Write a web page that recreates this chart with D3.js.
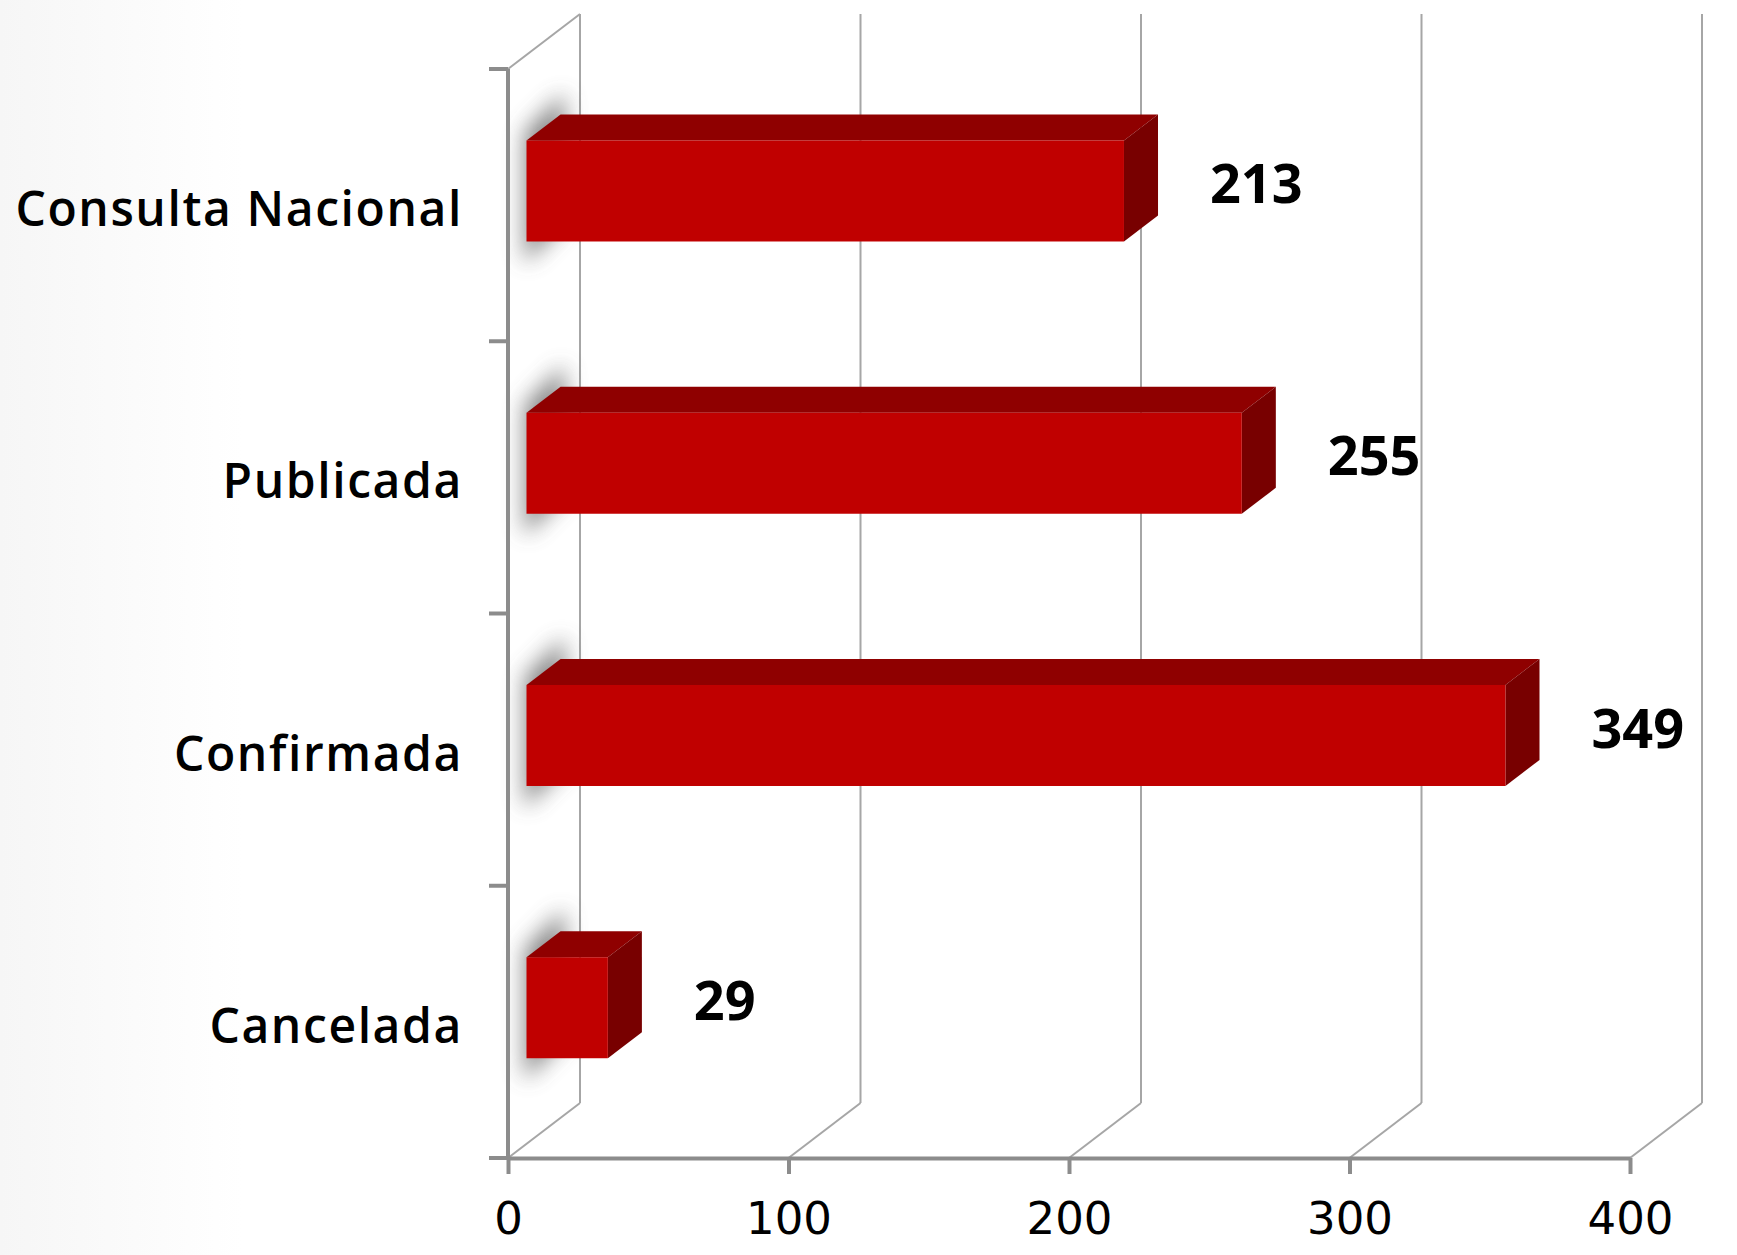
<!DOCTYPE html>
<html>

<head>
    <title>estatus</title>
    <script src="https://d3js.org/d3.v7.min.js"></script>
    <style>
        body { margin: 0; background: #fff; }
        text { font-family: "Open Sans", sans-serif; fill: #000; }
    </style>
</head>

<body>
    <svg width="1737" height="1255" id="mainsvg"></svg>
    <script>
        // datos
        const categories = ['Consulta Nacional', 'Publicada', 'Confirmada', 'Cancelada'];
        const values = [213, 255, 349, 29];
        const xTicks = [0, 100, 200, 300, 400];

        const svg = d3.select('#mainsvg');
        const width = +svg.attr('width'), height = +svg.attr('height');
        const margin = { top: 69, right: 107, bottom: 97, left: 508 };
        const innerWidth = width - margin.left - margin.right;
        const innerHeight = height - margin.top - margin.bottom;

        // profundidad 3d (desplazamiento de la pared del fondo)
        const depth = { dx: 72, dy: -55 };
        const zFront = 0.257, zBack = 0.73;
        const barRatio = 0.371;

        const defs = svg.append('defs');
        const bg = defs.append('linearGradient').attr('id', 'bg')
            .attr('x1', 0).attr('x2', 1).attr('y1', 0).attr('y2', 0);
        bg.append('stop').attr('offset', 0).attr('stop-color', '#f6f6f6');
        bg.append('stop').attr('offset', 0.14).attr('stop-color', '#ffffff');
        defs.append('filter').attr('id', 'blur')
            .attr('x', -1).attr('y', -1).attr('width', 3).attr('height', 3)
            .append('feGaussianBlur').attr('stdDeviation', 11);

        svg.append('rect').attr('width', width).attr('height', height).attr('fill', 'url(#bg)');

        const g = svg.append('g').attr('transform', `translate(${margin.left},${margin.top})`);

        const x = d3.scaleLinear().domain([0, 400]).range([0, innerWidth]);
        const y = d3.scaleBand().domain(categories).range([0, innerHeight]).padding(0);
        const bw = y.bandwidth();
        const gridColor = '#a6a6a6', axisColor = '#8c8c8c';

        const bars = categories.map((c, i) => {
            const cy = y(c) + bw / 2;
            const h = bw * barRatio;
            const fx0 = x(0) + zFront * depth.dx, fx1 = x(values[i]) + zFront * depth.dx;
            const fy0 = cy - h / 2 + zFront * depth.dy, fy1 = cy + h / 2 + zFront * depth.dy;
            const ox = (zBack - zFront) * depth.dx, oy = (zBack - zFront) * depth.dy;
            return { c, v: values[i], cy, fx0, fx1, fy0, fy1, ox, oy };
        });

        // etiquetas de valores (debajo de la cuadricula)
        g.append('g').selectAll('text').data(bars).join('text')
            .attr('x', d => d.fx1 + 86)
            .attr('y', d => d.cy - 2)
            .attr('font-size', 54).attr('font-weight', 700)
            .text(d => d.v);

        // pared lateral izquierda
        g.append('line')
            .attr('x1', x(0)).attr('y1', 0)
            .attr('x2', x(0) + depth.dx).attr('y2', depth.dy)
            .attr('stroke', gridColor).attr('stroke-width', 2);

        // lineas de la pared del fondo y del piso
        const grid = g.append('g');
        grid.selectAll('.back').data(xTicks).join('line')
            .attr('x1', d => x(d) + depth.dx).attr('x2', d => x(d) + depth.dx)
            .attr('y1', depth.dy).attr('y2', innerHeight + depth.dy)
            .attr('stroke', gridColor).attr('stroke-width', 2);
        grid.selectAll('.floor').data(xTicks).join('line')
            .attr('x1', d => x(d)).attr('y1', innerHeight)
            .attr('x2', d => x(d) + depth.dx).attr('y2', innerHeight + depth.dy)
            .attr('stroke', gridColor).attr('stroke-width', 2);

        // sombra sobre la pared lateral
        g.append('g').selectAll('path').data(bars).join('path')
            .attr('d', d => {
                const l = d.fx0 - 2, r = d.fx0 + d.ox + 4;
                return `M${l},${d.fy0 - 8}L${r},${d.fy0 + d.oy - 22}L${r},${d.fy1 + d.oy + 8}L${l},${d.fy1 + 22}Z`;
            })
            .attr('fill', '#555').attr('opacity', 0.7)
            .attr('filter', 'url(#blur)');

        // ejes
        g.append('line')
            .attr('x1', x(0)).attr('x2', x(0)).attr('y1', 0).attr('y2', innerHeight)
            .attr('stroke', axisColor).attr('stroke-width', 4);
        g.selectAll('.ytick').data(d3.range(categories.length + 1)).join('line')
            .attr('x1', x(0) - 19).attr('x2', x(0))
            .attr('y1', d => d * y.step()).attr('y2', d => d * y.step())
            .attr('stroke', axisColor).attr('stroke-width', 4);

        const xAxis = g.append('g').attr('transform', `translate(0,${innerHeight})`)
            .call(d3.axisBottom(x).tickValues(xTicks).tickSize(16).tickPadding(28).tickSizeOuter(0));
        xAxis.select('.domain').attr('stroke', axisColor).attr('stroke-width', 4);
        xAxis.selectAll('.tick line').attr('stroke', axisColor).attr('stroke-width', 4);
        xAxis.selectAll('.tick text')
            .style('font-family', '"DejaVu Sans", sans-serif')
            .attr('font-size', 45).attr('fill', '#000');

        // barras 3d
        const bar = g.append('g').selectAll('g').data(bars).join('g');
        bar.append('path')
            .attr('d', d => `M${d.fx0},${d.fy0}L${d.fx0 + d.ox},${d.fy0 + d.oy}L${d.fx1 + d.ox},${d.fy0 + d.oy}L${d.fx1},${d.fy0}Z`)
            .attr('fill', '#8f0000');
        bar.append('path')
            .attr('d', d => `M${d.fx1},${d.fy0}L${d.fx1 + d.ox},${d.fy0 + d.oy}L${d.fx1 + d.ox},${d.fy1 + d.oy}L${d.fx1},${d.fy1}Z`)
            .attr('fill', '#780000');
        bar.append('rect')
            .attr('x', d => d.fx0).attr('y', d => d.fy0)
            .attr('width', d => d.fx1 - d.fx0).attr('height', d => d.fy1 - d.fy0)
            .attr('fill', '#c00000');

        // etiquetas de categorias
        g.selectAll('.cat').data(categories).join('text')
            .attr('x', x(0) - 45)
            .attr('y', d => y(d) + bw / 2 + 21)
            .attr('text-anchor', 'end')
            .attr('font-size', 48).attr('font-weight', 600)
            .attr('letter-spacing', '1.6px')
            .text(d => d);
    </script>
</body>

</html>
